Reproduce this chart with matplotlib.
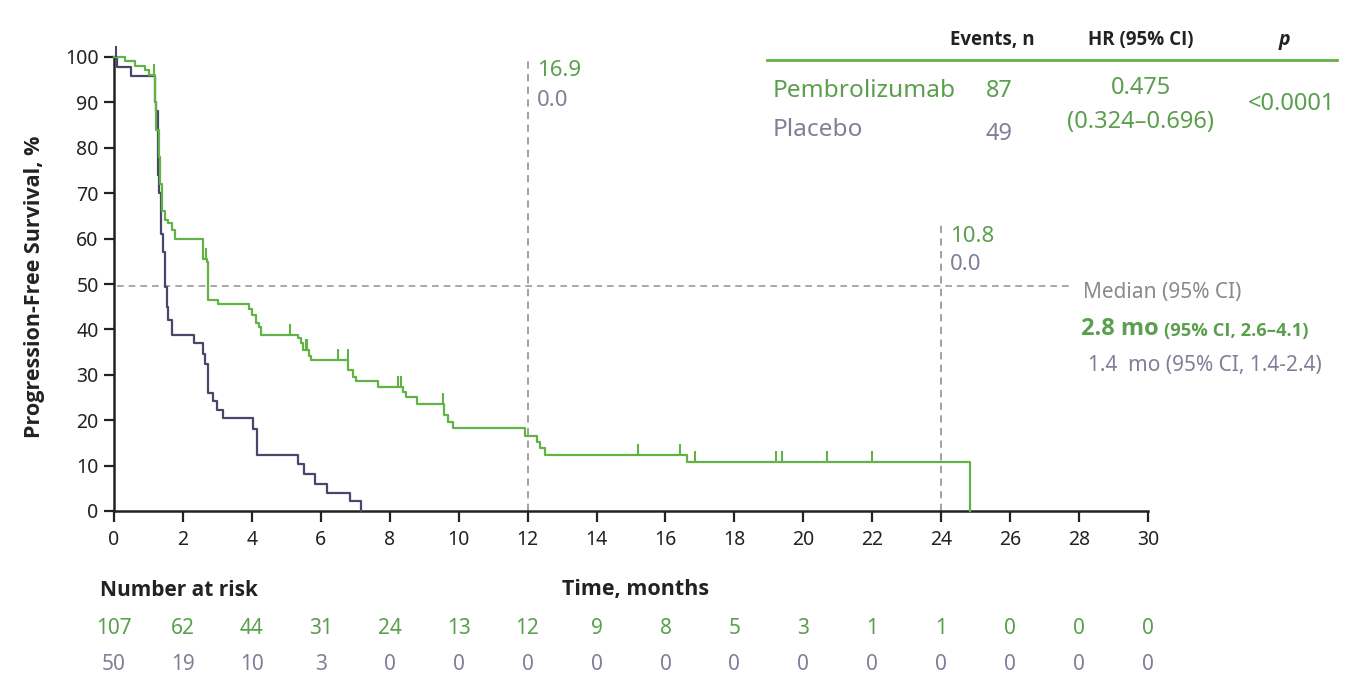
import numpy as np
import matplotlib
matplotlib.use("Agg")
import matplotlib.pyplot as plt
from matplotlib import font_manager as fm

# pick a family that has a real bold face
def pick_bold(cands):
    for fam in cands:
        for f in fm.fontManager.ttflist:
            if f.name == fam and (f.weight in ('bold', 700, 'semibold', 600) or
                                  (isinstance(f.weight, int) and f.weight >= 600)):
                return fam
    return 'DejaVu Sans'

REG = 'Noto Sans'
BOLDFAM = pick_bold(['Noto Sans', 'Open Sans', 'Lato', 'Roboto', 'Liberation Sans'])
plt.rcParams['font.family'] = [REG, 'DejaVu Sans']

# ---------------- data ----------------
pem_t = [0, 0.31, 0.62, 0.89, 1.02, 1.18, 1.20, 1.22, 1.30, 1.33, 1.38, 1.48, 1.58, 1.67, 1.77,
         2.59, 2.69, 2.74, 3.03, 3.93, 4.00, 4.12, 4.20, 4.26, 5.35, 5.42, 5.49, 5.67, 5.73,
         6.80, 6.94, 7.02, 7.67, 8.39, 8.47, 8.78, 9.57, 9.68, 9.85, 11.92, 12.26, 12.36, 12.50,
         16.63, 24.85]
pem_s = [100, 99.2, 98.1, 97.1, 96.0, 94.5, 90.0, 84.0, 78.0, 72.0, 66.0, 64.0, 63.4, 62.0, 60.0,
         55.6, 54.9, 46.5, 45.7, 44.6, 43.2, 41.3, 40.6, 38.8, 38.0, 36.9, 35.5, 34.1, 33.3,
         31.1, 29.6, 28.7, 27.4, 26.3, 25.2, 23.5, 21.1, 19.7, 18.2, 16.5, 15.3, 13.8, 12.3,
         10.7, 0]
pem_cens = [1.15, 2.66, 5.10, 5.57, 5.61, 6.49, 6.78, 8.23, 8.34, 9.55,
            15.21, 16.42, 16.87, 19.20, 19.37, 20.70, 21.98]

pla_t = [0, 0.08, 0.48, 1.18, 1.22, 1.29, 1.32, 1.35, 1.43, 1.48, 1.53, 1.58, 1.67, 2.33, 2.57,
         2.64, 2.74, 2.88, 3.00, 3.15, 4.02, 4.16, 5.35, 5.51, 5.83, 6.17, 6.85, 7.16]
pla_s = [100, 97.9, 95.8, 90.0, 88.0, 74.0, 70.0, 61.0, 57.0, 49.4, 45.0, 42.0, 38.8, 36.9, 34.6,
         32.4, 26.0, 24.3, 22.2, 20.4, 18.1, 12.3, 10.4, 8.1, 5.9, 4.0, 2.2, 0]
pla_cens = [0.05]

risk_times = list(range(0, 31, 2))
risk_pem = [107, 62, 44, 31, 24, 13, 12, 9, 8, 5, 3, 1, 1, 0, 0, 0]
risk_pla = [50, 19, 10, 3, 0, 0, 0, 0, 0, 0, 0, 0, 0, 0, 0, 0]

median_y = 49.5
landmarks = [12, 24]
landmark_top = [100, 63]
landmark_pem = ["16.9", "10.8"]
landmark_pla = ["0.0", "0.0"]

# ---------------- style ----------------
GREEN = '#62b346'
GREEN_T = '#5a9f4d'
NAVY = '#47476b'
GREY_T = '#7f7f99'
DASH = '#9a9a9a'
BLACK = '#222222'

W, H = 1364, 678
fig = plt.figure(figsize=(W / 100, H / 100), dpi=100)

def fx(x):
    return x / W

def fy(y):
    return 1 - y / H

BOLD = dict(family=[BOLDFAM, 'DejaVu Sans'], fontweight='bold')

ax = fig.add_axes([fx(114), fy(511), fx(1148) - fx(114), fy(57) - fy(511)])
ax.set_xlim(0, 30)
ax.set_ylim(0, 100)
for s in ['top', 'right']:
    ax.spines[s].set_visible(False)
for s in ['left', 'bottom']:
    ax.spines[s].set_linewidth(1.8)
    ax.spines[s].set_color(BLACK)
ax.set_xticks(risk_times)
ax.set_yticks(range(0, 101, 10))
ax.tick_params(axis='x', length=8, width=1.6, colors=BLACK, labelsize=14, pad=6)
ax.tick_params(axis='y', length=7, width=1.6, colors=BLACK, labelsize=14, pad=4)

# dashed median/landmark lines
ax.plot([0.08, 27.8], [median_y, median_y], color=DASH, lw=1.2, ls=(0, (4, 3)), zorder=1)
for lx, top in zip(landmarks, landmark_top):
    ax.plot([lx, lx], [0, top], color=DASH, lw=1.3, ls=(0, (4, 3)), zorder=1, clip_on=False)

# curves
ax.plot(pla_t, pla_s, drawstyle='steps-post', color=NAVY, lw=1.6, zorder=3, clip_on=False)
ax.plot(pem_t, pem_s, drawstyle='steps-post', color=GREEN, lw=1.6, zorder=4, clip_on=False)

def surv_at(ts, ss, c):
    i = np.searchsorted(ts, c, side='right') - 1
    return ss[i]

ax.plot(pem_cens, [surv_at(pem_t, pem_s, c) for c in pem_cens], ls='none', marker=2,
        markersize=8, mew=1.5, color=GREEN, zorder=4, clip_on=False)
ax.plot(pla_cens, [surv_at(pla_t, pla_s, c) for c in pla_cens], ls='none', marker=2,
        markersize=8, mew=1.5, color=NAVY, zorder=4, clip_on=False)

# landmark labels
ax.text(12.27, 97, landmark_pem[0], color=GREEN_T, fontsize=16, va='center', ha='left')
ax.text(12.27, 90.5, landmark_pla[0], color=GREY_T, fontsize=16, va='center', ha='left')
ax.text(24.25, 60.5, landmark_pem[1], color=GREEN_T, fontsize=16, va='center', ha='left')
ax.text(24.25, 54.2, landmark_pla[1], color=GREY_T, fontsize=16, va='center', ha='left')

# y label
fig.text(fx(35), fy(287), 'Progression-Free Survival, %', rotation=90, fontsize=15.5,
         color=BLACK, ha='center', va='center', **BOLD)

# x label & number at risk
fig.text(fx(100), fy(590), 'Number at risk', fontsize=15, color=BLACK,
         ha='left', va='center', **BOLD)
fig.text(fx(636), fy(590), 'Time, months', fontsize=15.5, color=BLACK,
         ha='center', va='center', **BOLD)
for t, a, b in zip(risk_times, risk_pem, risk_pla):
    xp = 114 + t * (1148 - 114) / 30
    fig.text(fx(xp), fy(629), str(a), fontsize=15, color=GREEN_T, ha='center', va='center')
    fig.text(fx(xp), fy(665), str(b), fontsize=15, color=GREY_T, ha='center', va='center')

# top-right table
fig.text(fx(992), fy(40), 'Events, n', fontsize=13.5, color=BLACK,
         ha='center', va='center', **BOLD)
fig.text(fx(1141), fy(40), 'HR (95% CI)', fontsize=13.5, color=BLACK,
         ha='center', va='center', **BOLD)
fig.text(fx(1284), fy(40), 'p', fontsize=14, fontstyle='italic',
         color=BLACK, ha='center', va='center', **BOLD)
fig.add_artist(plt.Line2D([fx(767), fx(1337)], [fy(60), fy(60)], color=GREEN, lw=2.0))
fig.text(fx(773), fy(91), 'Pembrolizumab', fontsize=17.6, color=GREEN_T, ha='left', va='center')
fig.text(fx(773), fy(130), 'Placebo', fontsize=17.6, color=GREY_T, ha='left', va='center')
fig.text(fx(999), fy(91), '87', fontsize=17, color=GREEN_T, ha='center', va='center')
fig.text(fx(999), fy(134), '49', fontsize=17, color=GREY_T, ha='center', va='center')
fig.text(fx(1141), fy(88), '0.475', fontsize=17, color=GREEN_T, ha='center', va='center')
fig.text(fx(1141), fy(122), '(0.324\u20130.696)', fontsize=17, color=GREEN_T, ha='center',
         va='center')
fig.text(fx(1292), fy(104), '<0.0001', fontsize=17, color=GREEN_T, ha='center', va='center')

# median block
fig.text(fx(1083), fy(292), 'Median (95% CI)', fontsize=15, color='#8a8a8a', ha='left',
         va='center')
fig.text(fx(1081), fy(329), '2.8 mo', fontsize=17, color=GREEN_T,
         ha='left', va='center', **BOLD)
fig.text(fx(1164), fy(331), '(95% CI, 2.6\u20134.1)', fontsize=13.2,
         color=GREEN_T, ha='left', va='center', **BOLD)
fig.text(fx(1088), fy(365), '1.4  mo (95% CI, 1.4-2.4)', fontsize=15, color=GREY_T,
         ha='left', va='center')

fig.savefig('out.png', dpi=100)
